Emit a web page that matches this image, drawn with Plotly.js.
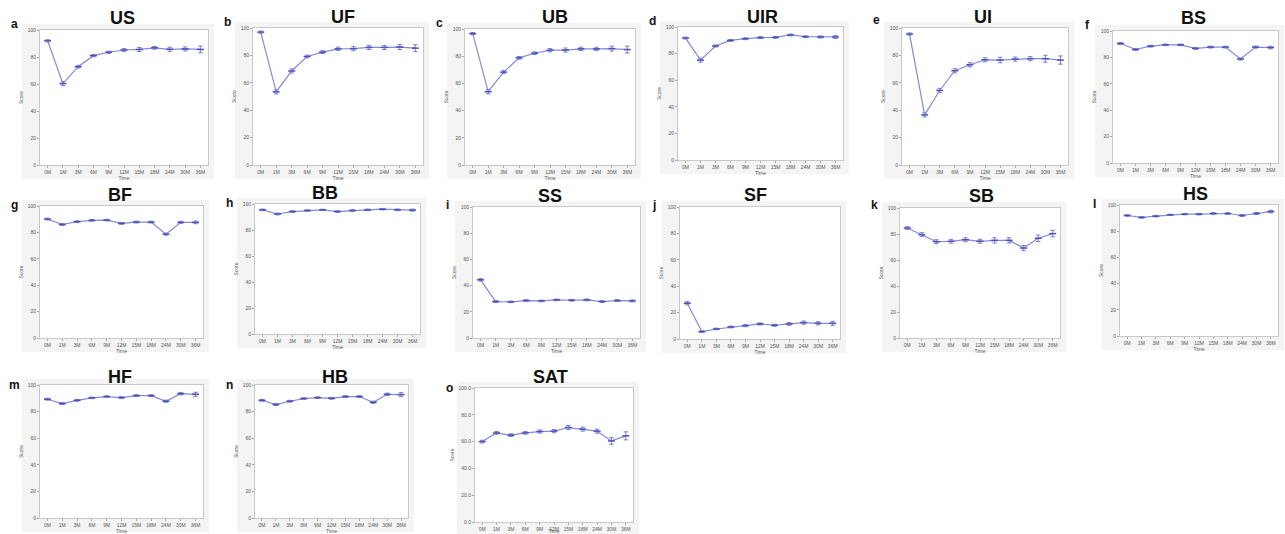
<!DOCTYPE html>
<html><head><meta charset="utf-8">
<script src="https://cdn.plot.ly/plotly-3.0.1.min.js"></script>
<style>html,body{margin:0;padding:0;background:#fff}#chart{width:1285px;height:534px}</style>
</head><body><div id="chart"></div>
<script>
// ---------- data ----------
const timePoints = ['0M','1M','3M','6M','9M','12M','15M','18M','24M','30M','36M'];
const panelTitles  = ['US','UF','UB','UIR','UI','BS','BF','BB','SS','SF','SB','HS','HF','HB','SAT'];
const panelLetters = ['a','b','c','d','e','f','g','h','i','j','k','l','m','n','o'];

const US  = [92, 60.3, 72.8, 81, 83.5, 85.2, 85.6, 86.8, 85.7, 86, 85.6];
const US_err = [0.8, 1.5, 1, 0.8, 0.8, 1, 1.5, 1, 1.5, 1.5, 2.5];
const UF  = [97, 53.4, 68.6, 79.2, 82.4, 84.8, 84.9, 85.8, 85.8, 86.1, 85.3];
const UF_err = [0.8, 1.5, 1.5, 1, 1, 1.2, 1.5, 1.5, 1.5, 1.8, 2.5];
const UB  = [96.6, 53.9, 68.3, 78.8, 82.2, 84.4, 84.5, 85.4, 85.4, 85.6, 84.9];
const UB_err = [0.8, 1.5, 1.2, 1, 1, 1.2, 1.5, 1.2, 1.2, 1.8, 2.5];
const UIR = [91.7, 75.1, 85.7, 89.9, 91.2, 92, 92.2, 94, 92.7, 92.5, 92.5];
const UIR_err = [0.7, 1.5, 0.8, 0.7, 0.7, 0.7, 0.7, 0.7, 0.7, 0.8, 1.2];
const UI  = [95.6, 36.6, 54.4, 68.8, 73.2, 76.8, 76.6, 77.3, 77.6, 77.6, 76.6];
const UI_err = [0.8, 1.5, 1.5, 1.5, 1.5, 1.5, 2, 1.5, 1.5, 2.5, 3];
const BS  = [90.5, 86, 88.5, 89.5, 89.5, 86.8, 87.8, 87.8, 78.8, 87.8, 87.5];
const BS_err = [0.7, 0.7, 0.7, 0.6, 0.6, 0.7, 0.7, 0.7, 0.8, 0.8, 1];
const BF  = [90.1, 86, 88.1, 89.1, 89.3, 86.8, 87.8, 87.8, 78.7, 87.6, 87.6];
const BF_err = [0.7, 0.7, 0.7, 0.6, 0.6, 0.7, 0.7, 0.7, 0.8, 0.8, 1];
const BB  = [95.5, 92.3, 94.2, 95, 95.5, 94.2, 95, 95.5, 96, 95.5, 95.3];
const BB_err = [0.6, 0.7, 0.6, 0.5, 0.5, 0.6, 0.6, 0.6, 0.6, 0.7, 0.8];
const SS  = [44.4, 27.8, 27.6, 28.6, 28.3, 29.1, 28.8, 29.1, 27.8, 28.6, 28.3];
const SS_err = [1, 0.7, 0.6, 0.6, 0.6, 0.6, 0.7, 0.7, 0.7, 0.7, 0.8];
const SF  = [27.1, 5.6, 7.6, 9.1, 10.1, 11.4, 10.4, 11.4, 12.4, 11.9, 11.9];
const SF_err = [1.2, 0.6, 0.6, 0.7, 0.8, 0.8, 0.8, 1, 1.2, 1.2, 1.5];
const SB  = [84.6, 79.5, 74.1, 74.4, 75.6, 74.4, 75.1, 75.1, 69.2, 76.7, 80.3];
const SB_err = [1, 1.5, 1.5, 1.5, 1.5, 1.5, 2, 2, 2, 2.5, 2.5];
const HS  = [92, 90.5, 91.5, 92.5, 93, 93, 93.5, 93.5, 92, 93.5, 95];
const HS_err = [0.6, 0.6, 0.6, 0.5, 0.5, 0.6, 0.6, 0.6, 0.7, 0.7, 1];
const HF  = [89.3, 86, 88.5, 90.3, 91.3, 90.5, 92, 92, 87.8, 93.5, 93];
const HF_err = [0.7, 0.7, 0.7, 0.6, 0.6, 0.7, 0.7, 0.7, 0.8, 0.9, 1.5];
const HB  = [88.5, 85.3, 87.8, 89.8, 90.5, 90, 91.3, 91.3, 87, 93, 92.8];
const HB_err = [0.7, 0.7, 0.7, 0.6, 0.6, 0.7, 0.7, 0.7, 0.8, 0.9, 1.5];
const SAT = [60, 66.5, 64.8, 66.5, 67.5, 67.8, 70.5, 69.3, 67.8, 60.5, 64.3];
const SAT_err = [1, 1, 1, 1, 1.2, 1.2, 1.5, 1.5, 1.5, 2.5, 3];
const yTickValues = [0, 20, 40, 60, 80, 100];

const seriesValues = [US, UF, UB, UIR, UI, BS, BF, BB, SS, SF, SB, HS, HF, HB, SAT];
const seriesErrors = [US_err, UF_err, UB_err, UIR_err, UI_err, BS_err, BF_err, BB_err, SS_err, SF_err, SB_err, HS_err, HF_err, HB_err, SAT_err];

// ---------- layout geometry (pixels: x0, y0, x1, y1 of plot area) ----------
const W = 1285, H = 534;
const boxes = [
  [40, 30, 208, 165], [253, 28, 423, 165], [465, 29, 635, 165],
  [678, 27, 843, 160], [902, 28, 1068, 165], [1113, 31, 1278, 163],
  [40, 206, 203, 338], [255, 204, 420, 334], [473, 207, 640, 338],
  [680, 207, 840, 339], [900, 208, 1060, 338], [1120, 205, 1278, 336],
  [40, 385, 203, 518], [255, 385, 408, 518], [475, 388, 633, 522]
];
const titleX = [122, 343, 555, 762, 983, 1193, 120, 325, 550, 755, 982, 1195, 120, 335, 550];
const titleY = [18, 17, 17, 17, 17, 18, 195, 193, 196, 195, 196, 194, 377, 377, 377];
const letterDy = [-6, -6, -6, -6, -8, -6, -1, -1, -2, -2, -3, -1, 0, 0, 0];

const lineColor = '#8589d9';
const markColor = '#4a52b8';
const tickFont = {family: 'Liberation Sans, Arial, sans-serif', size: 5, color: '#555'};

const traces = [];
const layout = {
  width: W, height: H,
  margin: {l: 0, r: 0, t: 0, b: 0},
  paper_bgcolor: '#ffffff', plot_bgcolor: 'rgba(0,0,0,0)',
  showlegend: false,
  font: {family: 'Liberation Sans, Arial, sans-serif'},
  shapes: [], annotations: []
};

boxes.forEach((b, i) => {
  const n = i + 1;
  const xa = 'xaxis' + (n === 1 ? '' : n), ya = 'yaxis' + (n === 1 ? '' : n);
  const xr = 'x' + (n === 1 ? '' : n), yr = 'y' + (n === 1 ? '' : n);
  traces.push({
    type: 'scatter', mode: 'lines+markers',
    x: timePoints, y: seriesValues[i], xaxis: xr, yaxis: yr,
    line: {color: lineColor, width: 1.2},
    marker: {symbol: 'line-ew', size: 5, line: {color: markColor, width: 1.5}, color: markColor},
    error_y: {type: 'data', array: seriesErrors[i], visible: true, color: '#6a70cc', thickness: 0.9, width: 2.2},
    hoverinfo: 'skip'
  });
  layout[xa] = {
    domain: [b[0] / W, b[2] / W], anchor: yr, type: 'category',
    range: [-0.5, timePoints.length - 0.5],
    showline: true, mirror: true, linecolor: '#c8c8c8', linewidth: 1,
    ticks: 'outside', ticklen: 2, tickcolor: '#888', tickwidth: 0.7,
    tickfont: tickFont, showgrid: false, zeroline: false,
    title: {text: 'Time', font: tickFont, standoff: 1}
  };
  layout[ya] = {
    domain: [1 - b[3] / H, 1 - b[1] / H], anchor: xr,
    range: [0, 100], tickvals: yTickValues,
    tickformat: panelTitles[i] === 'SAT' ? '.1f' : 'd',
    showline: true, mirror: true, linecolor: '#c8c8c8', linewidth: 1,
    ticks: 'outside', ticklen: 2, tickcolor: '#888', tickwidth: 0.7,
    tickfont: tickFont, showgrid: false, zeroline: false,
    title: {text: 'Score', font: tickFont, standoff: 3}
  };
  // gray frame behind panel
  layout.shapes.push({
    type: 'rect', xref: 'paper', yref: 'paper', layer: 'below',
    x0: (b[0] - 18) / W, x1: (b[2] + 6) / W,
    y0: 1 - (b[3] + 14) / H, y1: 1 - (b[1] - 6) / H,
    fillcolor: '#f4f4f4', line: {width: 0}
  });
  // white plot area
  layout.shapes.push({
    type: 'rect', xref: 'paper', yref: 'paper', layer: 'below',
    x0: b[0] / W, x1: b[2] / W, y0: 1 - b[3] / H, y1: 1 - b[1] / H,
    fillcolor: '#ffffff', line: {width: 0}
  });
  // title
  layout.annotations.push({
    xref: 'paper', yref: 'paper', x: titleX[i] / W, y: 1 - titleY[i] / H,
    text: '<b>' + panelTitles[i] + '</b>', showarrow: false,
    font: {family: 'Liberation Sans, Arial, sans-serif', size: 18, color: '#111'},
    xanchor: 'center', yanchor: 'middle'
  });
  // letter
  layout.annotations.push({
    xref: 'paper', yref: 'paper', x: (b[0] - 26) / W, y: 1 - (b[1] + letterDy[i]) / H,
    text: '<b>' + panelLetters[i] + '</b>', showarrow: false,
    font: {family: 'Liberation Sans, Arial, sans-serif', size: 12, color: '#111'},
    xanchor: 'center', yanchor: 'middle'
  });
});

Plotly.newPlot('chart', traces, layout, {staticPlot: true, displayModeBar: false});
</script>
</body></html>
